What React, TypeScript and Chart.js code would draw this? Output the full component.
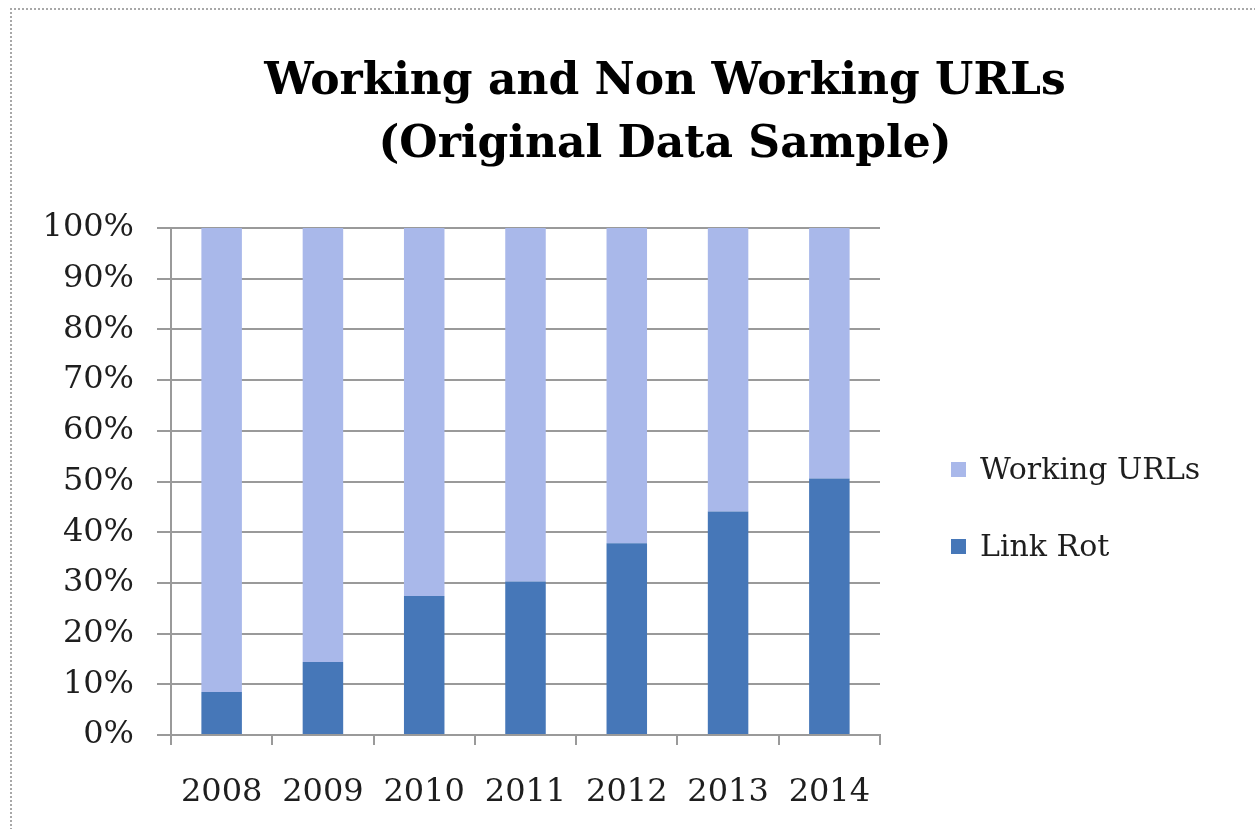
import React, { useEffect, useRef } from "react";
import { Chart, registerables } from "chart.js";

Chart.register(...registerables);

const years = ["2008", "2009", "2010", "2011", "2012", "2013", "2014"];
const linkRot = [8.5, 14.4, 27.4, 30.3, 37.8, 44.1, 50.6];
const workingUrls = [91.5, 85.6, 72.6, 69.7, 62.2, 55.9, 49.4];
const titleLines = ["Working and Non Working URLs", "(Original Data Sample)"];

const LINK_COLOR = "#4677b8";
const WORK_COLOR = "#a9b8ea";
const GRID = "#9a9a9a";
const TEXT = "#1e1e1e";
const SERIF = "'DejaVu Serif', 'Liberation Serif', serif";

const decor = {
  id: "decor",
  beforeDraw(chart: any) {
    const ctx = chart.ctx;
    ctx.save();
    ctx.fillStyle = "#ffffff";
    ctx.fillRect(0, 0, chart.width, chart.height);
    ctx.restore();
  },
  afterDraw(chart: any) {
    const ctx = chart.ctx;
    ctx.save();
    // border
    ctx.strokeStyle = "#a8a8a8";
    ctx.lineWidth = 2;
    ctx.setLineDash([2, 2]);
    ctx.beginPath();
    ctx.moveTo(11, chart.height + 5);
    ctx.lineTo(11, 9);
    ctx.lineTo(chart.width + 5, 9);
    ctx.stroke();
    ctx.setLineDash([]);

    // title
    ctx.fillStyle = "#000000";
    ctx.textAlign = "center";
    ctx.textBaseline = "middle";
    let size = 48;
    ctx.font = `bold ${size}px ${SERIF}`;
    const w = ctx.measureText(titleLines[0]).width;
    size = Math.round((size * 794) / w);
    ctx.font = `bold ${size}px ${SERIF}`;
    ctx.fillText(titleLines[0], 665, 83);
    ctx.fillText(titleLines[1], 665, 146);

    // legend
    ctx.font = `30px ${SERIF}`;
    ctx.textAlign = "left";
    const ds = chart.data.datasets.slice().reverse();
    ds.forEach((d: any, i: number) => {
      const cy = 470 + i * 77;
      ctx.fillStyle = d.backgroundColor;
      ctx.fillRect(951, cy - 8, 15, 15);
      ctx.fillStyle = TEXT;
      ctx.fillText(d.label, 980, cy + 1);
    });
    ctx.restore();
  },
};

export default function App() {
  const ref = useRef<HTMLCanvasElement>(null);
  useEffect(() => {
    if (!ref.current) return;
    const chart = new Chart(ref.current, {
      type: "bar",
      data: {
        labels: years,
        datasets: [
          {
            label: "Link Rot",
            data: linkRot,
            backgroundColor: LINK_COLOR,
            categoryPercentage: 1,
            barPercentage: 0.4,
          },
          {
            label: "Working URLs",
            data: workingUrls,
            backgroundColor: WORK_COLOR,
            categoryPercentage: 1,
            barPercentage: 0.4,
          },
        ],
      },
      options: {
        responsive: false,
        animation: false,
        layout: { padding: { top: 228, right: 375, bottom: 12, left: 10 } },
        plugins: {
          legend: { display: false },
          title: { display: false },
          tooltip: { enabled: false },
        },
        scales: {
          x: {
            stacked: true,
            afterFit: (s: any) => {
              s.height = 82;
            },
            grid: {
              offset: true,
              drawOnChartArea: false,
              drawTicks: true,
              tickLength: 10,
              color: GRID,
              lineWidth: 2,
            },
            border: { display: true, color: GRID, width: 2 },
            ticks: {
              color: TEXT,
              font: { family: SERIF, size: 32 },
              padding: 28,
              maxRotation: 0,
            },
          },
          y: {
            stacked: true,
            min: 0,
            max: 100,
            afterFit: (s: any) => {
              s.width = 161;
            },
            grid: {
              color: GRID,
              lineWidth: 2,
              tickLength: 14,
            },
            border: { display: true, color: GRID, width: 2 },
            ticks: {
              stepSize: 10,
              color: TEXT,
              font: { family: SERIF, size: 32 },
              padding: 23,
              callback: (v: any) => v + "%",
            },
          },
        },
      },
      plugins: [decor],
    });
    return () => chart.destroy();
  }, []);
  return (
    <div style={{ position: "absolute", left: 0, top: 0, width: 1255, height: 829 }}>
      <canvas ref={ref} width={1255} height={829} style={{ display: "block" }} />
    </div>
  );
}
